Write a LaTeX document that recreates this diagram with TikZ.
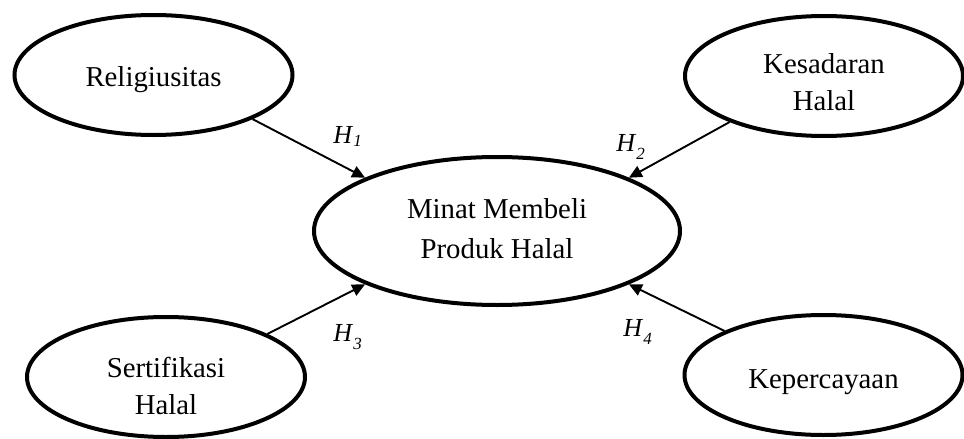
\documentclass[tikz,border=0pt]{standalone}
\usepackage{fontspec}
\setmainfont{Liberation Serif}
\usetikzlibrary{shapes.geometric,arrows.meta}
\tikzset{
  construct/.style={ellipse,draw,line width=2pt,inner sep=0pt},
  smallc/.style={construct,minimum width=139pt,minimum height=60pt},
  bigc/.style={construct,minimum width=183pt,minimum height=74pt},
  txt/.style={inner sep=0pt,align=center,font=\fontsize{14.4}{18.5}\selectfont},
  bigtxt/.style={inner sep=0pt,align=center,font=\fontsize{14.4}{20}\selectfont},
  arr/.style={-{Triangle[length=6.5pt,width=6pt]},line width=0.95pt},
  hlab/.style={inner sep=0pt,anchor=base west,font=\fontsize{13}{15}\selectfont}
}
\newcommand{\hyp}[2]{\textit{H}\raisebox{#2}{\fontsize{8.5}{9}\selectfont\textit{#1}}}
\begin{document}
\begin{tikzpicture}[x=0.5pt,y=-0.5pt]
\useasboundingbox (0,0) rectangle (964,439);
\node[smallc] (rel) at (153.5,75) {};
\node[smallc] (kes) at (824,76) {};
\node[bigc] (cen) at (497,231) {};
\node[smallc] (ser) at (166,377) {};
\node[smallc] (kep) at (823.5,375) {};
\node[txt] (trel) at ([yshift=-2.5pt]rel.center) {Religiusitas};
\node[txt] (tkes) at ([yshift=-3pt]kes.center) {Kesadaran\\Halal};
\node[bigtxt] (tcen) at ([yshift=1pt]cen.center) {Minat Membeli\\Produk Halal};
\node[txt] (tser) at ([yshift=-4.5pt]ser.center) {Sertifikasi\\Halal};
\node[txt] (tkep) at ([yshift=-3.5pt]kep.center) {Kepercayaan};
\draw[arr] (rel.-24) -- (cen.158);
\draw[arr] (kes.-154) -- (cen.22);
\draw[arr] (ser.23) -- (cen.-158);
\draw[arr] (kep.156.5) -- (cen.-22);
\node[hlab] (h1) at (333,143) {\hyp{1}{-0.3ex}};
\node[hlab] (h2) at (616,151) {\hyp{2}{-0.7ex}};
\node[hlab] (h3) at (333,341) {\hyp{3}{-0.7ex}};
\node[hlab] (h4) at (623,336) {\hyp{4}{-0.7ex}};
\end{tikzpicture}
\end{document}
